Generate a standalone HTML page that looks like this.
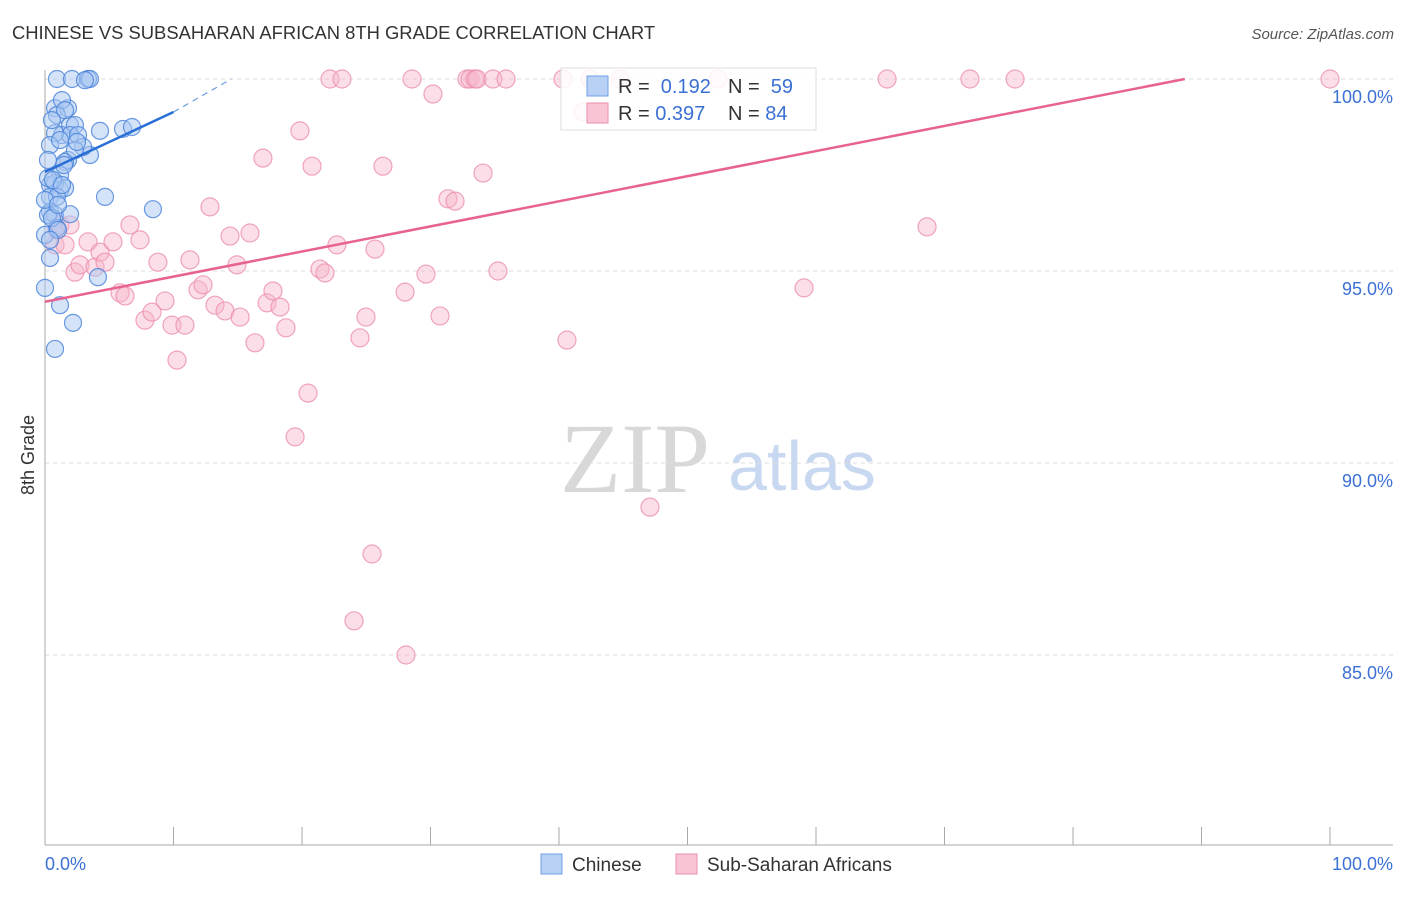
<!DOCTYPE html>
<html><head><meta charset="utf-8">
<style>
body{margin:0;background:#fff;font-family:"Liberation Sans",sans-serif;}
</style></head>
<body>
<svg id="chart" width="1406" height="892" xmlns="http://www.w3.org/2000/svg" font-family="Liberation Sans, sans-serif">
<text x="12" y="39" font-size="18.4" fill="#333">CHINESE VS SUBSAHARAN AFRICAN 8TH GRADE CORRELATION CHART</text>
<text x="1394" y="39" font-size="15" fill="#555" font-style="italic" text-anchor="end">Source: ZipAtlas.com</text>
<text x="34" y="455" font-size="18" fill="#333" text-anchor="middle" transform="rotate(-90 34 455)">8th Grade</text>
<g>
<text x="635" y="492" font-size="100" fill="#d8d8d8" style="font-family:'Liberation Serif',serif" text-anchor="middle">ZIP</text>
<text x="802" y="490" font-size="70" fill="#c8d8f0" text-anchor="middle">atlas</text>
</g>
<g id="grid"></g>
<g id="axes"></g>
<g id="pinkPts"></g>
<g id="bluePts"></g>
<g id="trends"></g>
<g>
<rect x="561" y="68" width="255" height="62" fill="#fff" fill-opacity="0.85" stroke="#ddd"/>
<rect x="587" y="76" width="21" height="20" fill="#b8d0f4" stroke="#6f9fe6"/>
<text x="618" y="93" font-size="20" fill="#333">R = <tspan fill="#3b70d4">&#160;0.192</tspan>   <tspan x="728" fill="#333">N = </tspan><tspan fill="#3b70d4">&#160;59</tspan></text>
<rect x="587" y="103" width="21" height="20" fill="#f9c4d4" stroke="#ec8fae"/>
<text x="618" y="120" font-size="20" fill="#333">R = <tspan fill="#3b70d4">0.397</tspan><tspan x="728" fill="#333">N = </tspan><tspan fill="#3b70d4">84</tspan></text>
</g>
<g>
<rect x="541" y="854" width="21" height="20" fill="#b8d0f4" stroke="#6f9fe6"/>
<text x="572" y="871" font-size="19" fill="#333">Chinese</text>
<rect x="676" y="854" width="21" height="20" fill="#f9c4d4" stroke="#ec8fae"/>
<text x="707" y="871" font-size="19" fill="#333">Sub-Saharan Africans</text>
</g>
</svg>
<script>
const yTicks=[100,95,90,85];
const yTickLabels=["100.0%","95.0%","90.0%","85.0%"];
const blueX=[0.93,2.1,3.35,3.5,0.78,1.79,1.32,0.93,1.95,2.33,1.32,1.95,2.57,0.78,4.28,6.07,6.77,1.79,1.56,3.5,2.96,1.17,1.17,0.39,0.78,1.56,0.39,0.93,4.67,8.4,0.39,0.78,1.95,0.23,0.93,0.39,4.12,0,1.17,2.18,0.78,0.39,0.23,0.62,1.32,0.54,0,1.01,0.39,1.56,1.17,2.33,0.23,0.54,3.11,2.49,0,1.48,1.01];
const blueY=[100,100,100,100,99.24,99.24,99.45,99.06,98.8,98.8,98.54,98.54,98.54,98.59,98.65,98.7,98.75,97.89,97.84,98.02,98.23,97.5,97.11,97.24,97.29,97.16,96.93,96.93,96.93,96.61,96.54,96.46,96.48,96.46,96.12,95.34,94.84,94.56,94.11,93.65,92.97,98.28,97.42,97.37,97.24,96.38,95.94,96.07,95.81,99.19,98.41,98.15,97.89,98.93,99.97,98.36,96.85,97.76,96.72];
const pinkX=[0.93,1.17,0.78,1.56,1.95,2.33,2.72,3.35,3.89,4.28,4.67,5.29,5.84,6.23,6.61,7.39,7.78,8.33,8.79,9.34,9.88,10.27,10.89,11.28,11.91,12.3,12.84,13.23,14.01,14.4,14.94,15.18,15.95,16.34,16.96,17.28,17.74,18.29,18.75,19.46,19.84,20.47,20.78,21.4,21.79,22.72,22.18,23.11,24.05,24.51,24.98,25.45,25.68,26.3,28.02,28.09,28.56,29.65,30.19,30.74,31.36,31.91,32.84,33.07,33.46,33.62,34.09,34.86,35.25,35.88,40.31,40.62,41.87,42.41,47.08,52.37,59.07,65.53,68.64,71.98,75.49,100,44.75];
const pinkY=[96.07,96.2,95.68,95.68,96.2,94.97,95.16,95.76,95.1,95.49,95.23,95.76,94.43,94.35,96.2,95.81,93.72,93.93,95.23,94.22,93.59,92.68,93.59,95.29,94.51,94.64,96.67,94.11,93.96,95.91,95.16,93.8,95.99,93.13,97.94,94.17,94.48,94.06,93.52,90.68,98.65,91.82,97.73,95.05,94.95,95.68,100,100,85.89,93.26,93.8,87.63,95.57,97.73,94.45,85,100,94.92,99.61,93.83,96.88,96.82,100,100,100,100,97.55,100,95,100,100,93.2,99.14,100,88.85,100,94.56,100,96.15,100,100,100,100];
const blueTrend=[[0,97.58],[10,99.14]];
const blueDash=[[10,99.14],[14.5,100]];
const pinkTrend=[[0,94.2],[88.7,100]];

const NS="http://www.w3.org/2000/svg";
const X0=45,X1=1330,YT=79,PPU=38.4,YB=845;
const sx=v=>X0+(X1-X0)*v/100;
const sy=v=>YT+(100-v)*PPU;
function mk(tag,attrs,parent){const e=document.createElementNS(NS,tag);for(const k in attrs)e.setAttribute(k,attrs[k]);document.getElementById(parent).appendChild(e);return e;}

yTicks.forEach((t,i)=>{
  const l=mk('line',{x1:X0,x2:1393,y1:sy(t),y2:sy(t),stroke:'#ddd','stroke-dasharray':'4,4'},'grid');
  
  
  const tx=mk('text',{x:1393,y:sy(t)+24,'font-size':18,fill:'#3b70d4','text-anchor':'end'},'grid');
  tx.textContent=yTickLabels[i];
  
  
});
const ax=mk('line',{x1:X0,x2:X0,y1:70,y2:YB,stroke:'#aaa'},'axes');


const xa=mk('line',{x1:X0,x2:1393,y1:YB,y2:YB,stroke:'#aaa'},'axes');


for(let i=1;i<=10;i++){
  const t=mk('line',{x1:sx(i*10),x2:sx(i*10),y1:827,y2:YB,stroke:'#aaa'},'axes');
  
  
}
const xl=mk('text',{x:45,y:870,'font-size':18,fill:'#3b70d4'},'axes');xl.textContent='0.0%';


const xr=mk('text',{x:1393,y:870,'font-size':18,fill:'#3b70d4','text-anchor':'end'},'axes');xr.textContent='100.0%';



pinkX.forEach((v,i)=>{
  const c=mk('circle',{cx:sx(v),cy:sy(pinkY[i]),r:9,fill:'#f7b6ca','fill-opacity':0.45,stroke:'#ec8fae','stroke-opacity':0.8,'stroke-width':1.2},'pinkPts');
  
  
});
blueX.forEach((v,i)=>{
  const c=mk('circle',{cx:sx(v),cy:sy(blueY[i]),r:8.5,fill:'#a9c7f2','fill-opacity':0.5,stroke:'#4f87dc','stroke-opacity':0.85,'stroke-width':1.2},'bluePts');
  
  
});
const bt=mk('line',{x1:sx(blueTrend[0][0]),y1:sy(blueTrend[0][1]),x2:sx(blueTrend[1][0]),y2:sy(blueTrend[1][1]),stroke:'#2a6fd6','stroke-width':2.5},'trends');


const bd=mk('line',{x1:sx(blueDash[0][0]),y1:sy(blueDash[0][1]),x2:sx(blueDash[1][0]),y2:sy(blueDash[1][1]),stroke:'#6a9be0','stroke-width':1.2,'stroke-dasharray':'6,5'},'trends');


const pt=mk('line',{x1:sx(pinkTrend[0][0]),y1:sy(pinkTrend[0][1]),x2:sx(pinkTrend[1][0]),y2:sy(pinkTrend[1][1]),stroke:'#e8628f','stroke-width':2.5},'trends');


</script>
</body></html>
